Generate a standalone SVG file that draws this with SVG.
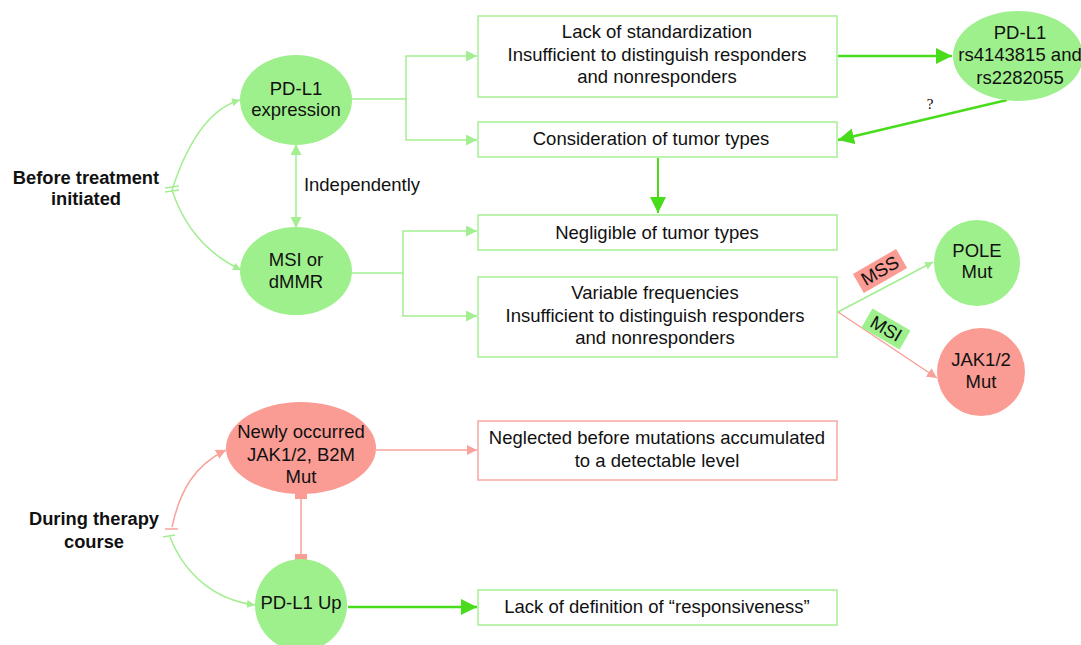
<svg xmlns="http://www.w3.org/2000/svg" width="1081" height="645" viewBox="0 0 1081 645">
<style>
text{font-family:"Liberation Sans",Arial,sans-serif;font-size:18.5px;fill:#111;text-anchor:middle}
.b{font-weight:bold;font-size:18.3px}
.g{fill:#9ef08c}
.r{fill:#fa9c94}
.box{fill:#fff;stroke:#a6ef95;stroke-width:1.5}
.rbox{fill:#fff;stroke:#f7a8a2;stroke-width:1.5}
.lg{fill:none;stroke:#a2ee90;stroke-width:1.5}
.lr{fill:none;stroke:#f9a29b;stroke-width:1.5}
.bg{fill:none;stroke:#48dc1c;stroke-width:2.5}
</style>
<defs>
<marker id="ag" viewBox="0 0 10 10" refX="10" refY="5" markerWidth="8" markerHeight="8" markerUnits="userSpaceOnUse" orient="auto"><path d="M0,0L10,5L0,10z" fill="#a2ee90"/></marker>
<marker id="ag2" viewBox="0 0 10 10" refX="10" refY="5" markerWidth="11" markerHeight="11" markerUnits="userSpaceOnUse" orient="auto-start-reverse"><path d="M0,0L10,5L0,10z" fill="#a2ee90"/></marker>
<marker id="ar" viewBox="0 0 10 10" refX="10" refY="5" markerWidth="10" markerHeight="10" markerUnits="userSpaceOnUse" orient="auto"><path d="M0,0L10,5L0,10z" fill="#f9a29b"/></marker>
<marker id="abg" viewBox="0 0 10 10" refX="10" refY="5" markerWidth="16" markerHeight="16" markerUnits="userSpaceOnUse" orient="auto"><path d="M0,0L10,5L0,10z" fill="#48dc1c"/></marker>
</defs>

<g id="connectors">
<path class="lg" d="M172,190 C185,150 205,110 240,100" marker-end="url(#ag)"/>
<path class="lg" d="M172,190 C185,230 210,255 241,270" marker-end="url(#ag)"/>
<path class="lg" d="M165,188 L179,186 M165,192 L179,190"/>
<path class="lg" d="M296,144 L296,228" marker-start="url(#ag2)" marker-end="url(#ag2)"/>
<path class="lg" d="M352,99 H406 V56 H477" marker-end="url(#ag2)"/>
<path class="lg" d="M406,99 V140 H477" marker-end="url(#ag2)"/>
<path class="lg" d="M351,273 H403 V231 H477" marker-end="url(#ag2)"/>
<path class="lg" d="M403,273 V316 H477" marker-end="url(#ag2)"/>
<path class="bg" d="M838,56 H952" marker-end="url(#abg)"/>
<path class="bg" d="M1007,100 L838,140" marker-end="url(#abg)"/>
<path class="bg" d="M658,158 V213" marker-end="url(#abg)" style="stroke-width:2"/>
<path class="lg" d="M838,312 L933,262" marker-end="url(#ag)"/>
<path class="lr" d="M838,312 L937,378" marker-end="url(#ar)"/>
<path class="lr" d="M172,527 C180,490 195,465 226,450" marker-end="url(#ar)"/>
<path class="lg" d="M170,537 C185,575 215,600 255,605" marker-end="url(#ag)"/>
<path class="lr" d="M165,529 L178,529"/>
<path class="lg" d="M163,537 L175,535"/>
<path class="lr" d="M301,494 V560"/>
<rect x="295" y="493" width="12" height="6" fill="#fa9c94"/>
<rect x="295" y="554" width="12" height="6" fill="#fa9c94"/>
<path class="lr" d="M376,450 H477" marker-end="url(#ar)"/>
<path class="bg" d="M348,607 H477" marker-end="url(#abg)"/>
</g>

<g id="lbl-before"><text class="b" x="86" y="184">Before treatment</text><text class="b" x="86" y="205">initiated</text></g>
<g id="lbl-during"><text class="b" x="94" y="525">During therapy</text><text class="b" x="94" y="548">course</text></g>
<g id="lbl-indep"><text x="362" y="191">Independently</text></g>
<g id="lbl-q"><text x="930" y="109" style="font-family:'Liberation Serif',serif;font-size:15px;fill:#000">?</text></g>

<g id="pdl1"><ellipse class="g" cx="296" cy="100" rx="56" ry="45"/><text x="296" y="95">PD-L1</text><text x="296" y="116">expression</text></g>
<g id="msi"><ellipse class="g" cx="296" cy="271" rx="56" ry="44"/><text x="296" y="266">MSI or</text><text x="296" y="288">dMMR</text></g>
<g id="rs"><ellipse class="g" cx="1018" cy="56" rx="65" ry="45"/><text x="1020" y="39">PD-L1</text><text x="1020" y="61">rs4143815 and</text><text x="1020" y="84">rs2282055</text></g>
<g id="pole"><circle class="g" cx="977" cy="263" r="43"/><text x="977" y="257">POLE</text><text x="977" y="278">Mut</text></g>
<g id="jak"><circle class="r" cx="981" cy="372" r="44"/><text x="981" y="366">JAK1/2</text><text x="981" y="388">Mut</text></g>
<g id="newly"><ellipse class="r" cx="301" cy="448" rx="75" ry="46"/><text x="301" y="438">Newly occurred</text><text x="301" y="461">JAK1/2, B2M</text><text x="301" y="483">Mut</text></g>
<g id="pdl1up"><circle class="g" cx="301" cy="605" r="46"/><text x="301" y="609">PD-L1 Up</text></g>

<g id="box1"><rect class="box" x="478" y="16" width="359" height="81"/><text x="657" y="38">Lack of standardization</text><text x="657" y="61">Insufficient to distinguish responders</text><text x="657" y="83">and nonresponders</text></g>
<g id="box2"><rect class="box" x="478" y="122" width="359" height="35"/><text x="651" y="145">Consideration of tumor types</text></g>
<g id="box3"><rect class="box" x="478" y="215" width="359" height="35"/><text x="657" y="239">Negligible of tumor types</text></g>
<g id="box4"><rect class="box" x="478" y="277" width="359" height="80"/><text x="655" y="299">Variable frequencies</text><text x="655" y="322">Insufficient to distinguish responders</text><text x="655" y="344">and nonresponders</text></g>
<g id="box5"><rect class="rbox" x="478" y="421" width="359" height="59"/><text x="657" y="444">Neglected before mutations accumulated</text><text x="657" y="467">to a detectable level</text></g>
<g id="box6"><rect class="box" x="478" y="590" width="359" height="35"/><text x="657" y="613">Lack of definition of “responsiveness”</text></g>

<g id="mss" transform="translate(880,271) rotate(-30)"><rect x="-25" y="-11" width="50" height="22" fill="#fa9c94"/><text x="0" y="6">MSS</text></g>
<g id="msilbl" transform="translate(886,329) rotate(30)"><rect x="-22" y="-11" width="44" height="22" fill="#9ef08c"/><text x="0" y="6">MSI</text></g>
</svg>
